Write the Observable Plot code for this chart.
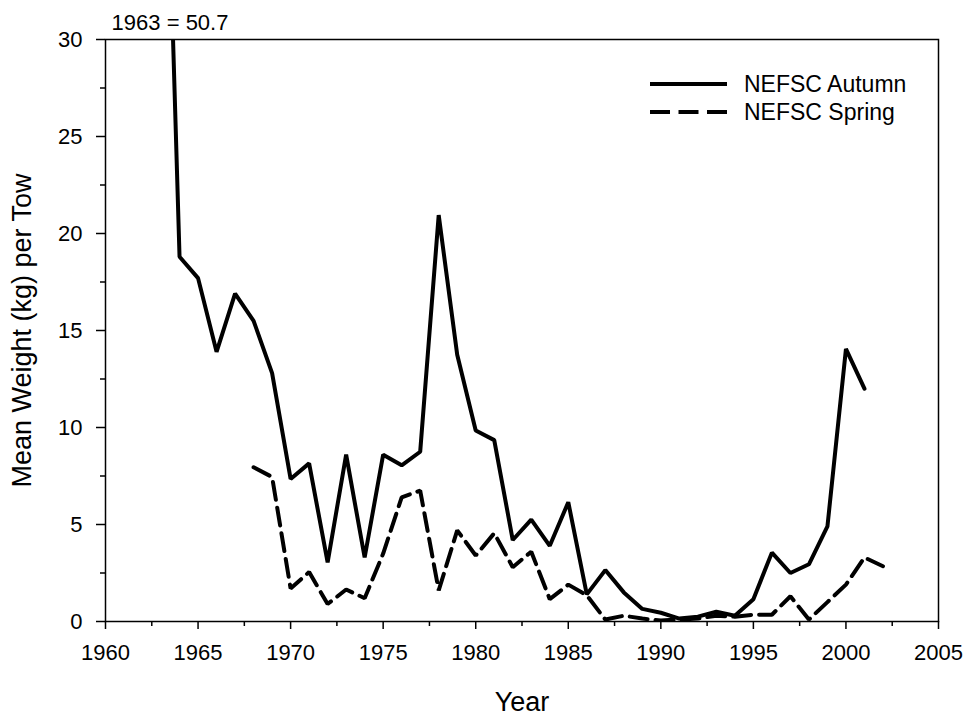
<!DOCTYPE html>
<html>
<head>
<meta charset="utf-8">
<script src="https://cdn.jsdelivr.net/npm/d3@7"></script>
<script src="https://cdn.jsdelivr.net/npm/@observablehq/plot@0.6"></script>
<style>
  body { margin: 0; background: #fff; }
  #chart svg { display: block; }
</style>
</head>
<body>
<div id="chart"></div>
<script>
// ---- Data ----
const autumnYears = [1963,1964,1965,1966,1967,1968,1969,1970,1971,1972,1973,1974,1975,1976,1977,1978,1979,1980,1981,1982,1983,1984,1985,1986,1987,1988,1989,1990,1991,1992,1993,1994,1995,1996,1997,1998,1999,2000,2001];
const autumnWeight = [50.7,18.8,17.7,13.9,16.9,15.5,12.8,7.35,8.15,3.05,8.6,3.3,8.6,8.05,8.75,20.95,13.75,9.85,9.35,4.2,5.25,3.9,6.15,1.4,2.65,1.5,0.65,0.45,0.15,0.25,0.5,0.3,1.15,3.55,2.5,2.95,4.9,14.05,12.0];

const springYears = [1968,1969,1970,1971,1972,1973,1974,1975,1976,1977,1978,1979,1980,1981,1982,1983,1984,1985,1986,1987,1988,1989,1990,1991,1992,1993,1994,1995,1996,1997,1998,1999,2000,2001,2002];
const springWeight = [7.95,7.45,1.7,2.55,0.9,1.65,1.2,3.5,6.4,6.75,1.6,4.7,3.4,4.55,2.8,3.6,1.15,1.9,1.35,0.1,0.3,0.15,0.05,0.1,0.15,0.3,0.25,0.35,0.35,1.3,0.1,1.0,1.9,3.3,2.85];

const xMajorTicks = [1960,1965,1970,1975,1980,1985,1990,1995,2000,2005];
const xMinorTicks = [1962.5,1967.5,1972.5,1977.5,1982.5,1987.5,1992.5,1997.5,2002.5];
const yMajorTicks = [0,5,10,15,20,25,30];
const yMinorTicks = [2.5,7.5,12.5,17.5,22.5,27.5];

const seriesNames = ["NEFSC Autumn", "NEFSC Spring"];
const annotation = [{year: 1963, value: 30, label: "1963 = 50.7"}];
const xTitle = "Year";
const yTitle = "Mean Weight (kg) per Tow";

const autumn = autumnYears.map((y, i) => ({year: y, weight: autumnWeight[i]}));
const spring = springYears.map((y, i) => ({year: y, weight: springWeight[i]}));

const FONT = "'Liberation Sans', Arial, Helvetica, sans-serif";

const plot = Plot.plot({
  width: 968,
  height: 717,
  marginLeft: 105,
  marginRight: 30,
  marginTop: 39,
  marginBottom: 96,
  style: {fontFamily: FONT, background: "#fff", color: "#000", overflow: "visible"},
  x: {domain: [1960, 2005]},
  y: {domain: [0, 30]},
  marks: [
    Plot.axisX({ticks: xMajorTicks, tickSize: 8, tickPadding: 15, tickFormat: d => String(d), fontSize: 22, stroke: "#000", strokeWidth: 1.5, strokeOpacity: 1, fill: "#000", label: null}),
    Plot.axisX({ticks: xMinorTicks, tickSize: 5, tickFormat: () => "", stroke: "#000", strokeWidth: 1.5, strokeOpacity: 1, label: null}),
    Plot.axisY({ticks: yMajorTicks, tickSize: 9, tickPadding: 14, tickFormat: d => String(d), fontSize: 22, stroke: "#000", strokeWidth: 1.5, strokeOpacity: 1, fill: "#000", label: null}),
    Plot.axisY({ticks: yMinorTicks, tickSize: 5, tickFormat: () => "", stroke: "#000", strokeWidth: 1.5, strokeOpacity: 1, label: null}),
    Plot.frame({stroke: "#000", strokeWidth: 1.5}),
    Plot.line(autumn, {x: "year", y: "weight", stroke: "#000", strokeWidth: 4, clip: true, strokeLinejoin: "miter"}),
    Plot.line(spring, {x: "year", y: "weight", stroke: "#000", strokeWidth: 4, strokeDasharray: "18,8", clip: true, strokeLinejoin: "miter"}),
    Plot.text(annotation, {x: "year", y: "value", text: "label", dx: 9, dy: -17, fontSize: 22, fill: "#000", textAnchor: "middle", lineAnchor: "middle"}),
    Plot.text([xTitle], {frameAnchor: "bottom", dy: 81, fontSize: 27, fill: "#000", textAnchor: "middle", lineAnchor: "middle"}),
    Plot.text([yTitle], {frameAnchor: "left", dx: -83, rotate: -90, fontSize: 27, fill: "#000", textAnchor: "middle", lineAnchor: "middle"})
  ]
});

document.getElementById("chart").appendChild(plot);

// ---- Legend (inside the plot, top right) ----
const svg = d3.select(plot);
const legend = svg.append("g")
  .attr("font-family", FONT)
  .attr("font-size", 23)
  .attr("text-anchor", "start");
const legendRows = [
  {name: seriesNames[0], dash: null, y: 84},
  {name: seriesNames[1], dash: "20,8.5", y: 112}
];
legendRows.forEach(r => {
  legend.append("line")
    .attr("x1", 650).attr("x2", 727)
    .attr("y1", r.y).attr("y2", r.y)
    .attr("stroke", "#000").attr("stroke-width", 4)
    .attr("stroke-dasharray", r.dash);
  legend.append("text")
    .attr("x", 744).attr("y", r.y).attr("dy", "0.35em")
    .attr("text-anchor", "start")
    .attr("fill", "#000")
    .text(r.name);
});
</script>
</body>
</html>
